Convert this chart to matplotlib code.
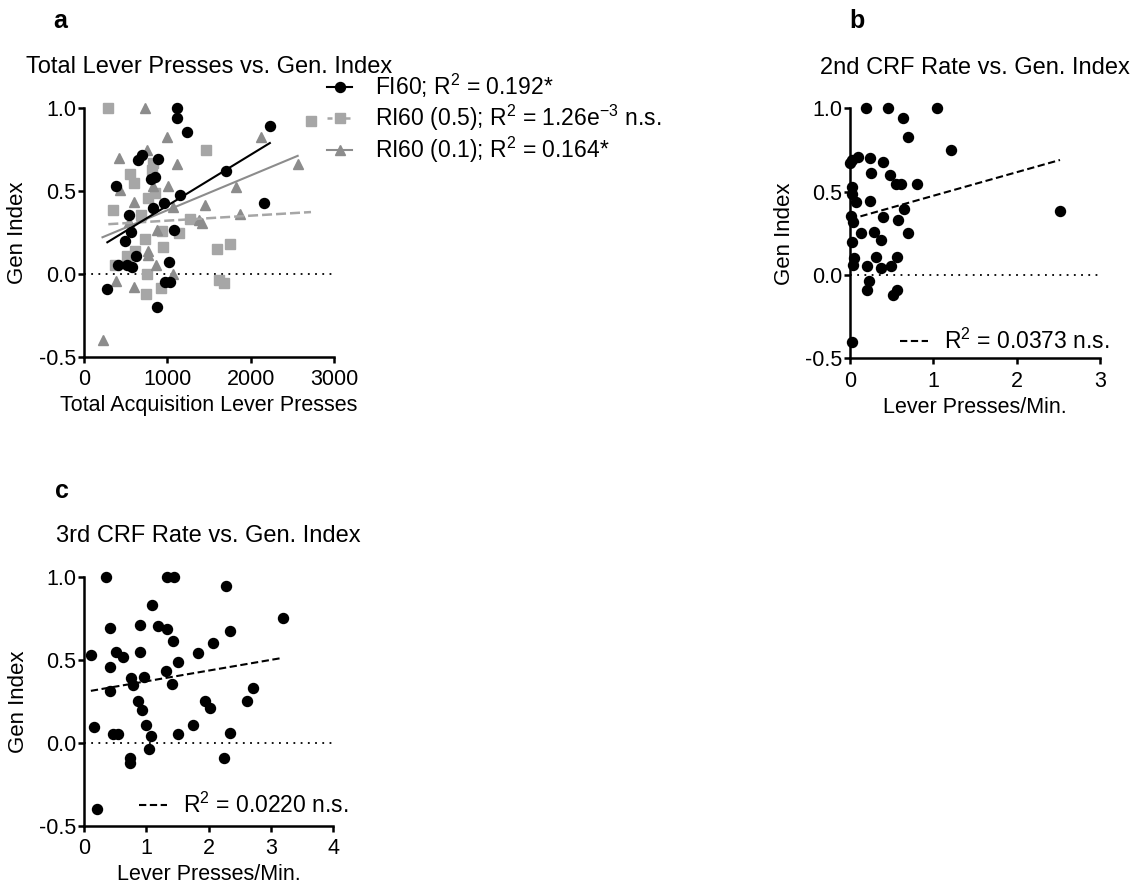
import matplotlib

matplotlib.use("agg")
import matplotlib.pyplot as plt
import numpy as np
from matplotlib.lines import Line2D
from matplotlib.ticker import FormatStrFormatter

plt.rcParams["font.family"] = ["Liberation Sans", "DejaVu Sans"]
plt.rcParams["mathtext.fontset"] = "custom"
plt.rcParams["mathtext.rm"] = "Liberation Sans"
plt.rcParams["mathtext.it"] = "Liberation Sans:italic"
plt.rcParams["mathtext.default"] = "regular"
plt.rcParams["axes.unicode_minus"] = False

# Panel a: total acquisition lever presses vs. generalization index
fi60_presses = [1112, 1112, 1240, 650, 690, 890, 800, 850, 380, 1150, 545, 830, 960, 2160,
                2230, 1700, 560, 490, 1075, 410, 510, 570, 620, 1025, 975, 1035, 280, 870]
fi60_gen = [1.0, 0.94, 0.855, 0.685, 0.715, 0.69, 0.57, 0.585, 0.53, 0.475, 0.355, 0.395, 0.43, 0.43,
            0.89, 0.62, 0.255, 0.2, 0.265, 0.055, 0.055, 0.04, 0.11, 0.075, -0.05, -0.05, -0.09, -0.2]

ri05_presses = [292, 2724, 1460, 552, 600, 830, 820, 770, 850, 345, 685, 1272, 1140, 930,
                735, 945, 510, 610, 750, 925, 740, 1592, 1752, 1620, 1675, 372]
ri05_gen = [1.0, 0.92, 0.745, 0.6, 0.55, 0.67, 0.625, 0.455, 0.485, 0.385, 0.355, 0.33, 0.245, 0.26,
            0.21, 0.165, 0.11, 0.14, 0.0, -0.085, -0.12, 0.15, 0.18, -0.035, -0.055, 0.055]

ri01_presses = [730, 995, 2128, 422, 755, 1112, 2564, 1820, 1012, 832, 432, 600, 1455, 1072,
                1866, 1384, 1410, 876, 544, 768, 768, 866, 1072, 382, 600, 222]
ri01_gen = [1.0, 0.825, 0.825, 0.7, 0.75, 0.66, 0.665, 0.525, 0.53, 0.53, 0.505, 0.435, 0.415, 0.405,
            0.36, 0.325, 0.305, 0.268, 0.314, 0.14, 0.115, 0.054, 0.0, -0.04, -0.078, -0.4]

# Panel b: 2nd CRF session rate
crf2_rate = [0.19, 0.45, 1.04, 0.63, 0.70, 1.21, 0.10, 0.02, 0.0, 0.24, 0.39, 0.25, 0.48, 0.55,
             0.61, 0.80, 0.02, 0.02, 0.07, 0.24, 0.65, 0.01, 0.03, 0.40, 0.57, 0.13, 0.29, 0.37,
             0.70, 0.02, 0.05, 0.03, 0.20, 0.31, 0.37, 0.49, 0.56, 0.23, 0.20, 0.56, 0.52, 0.02, 2.52]
crf2_gen = [1.0, 1.0, 1.0, 0.94, 0.83, 0.75, 0.71, 0.69, 0.67, 0.70, 0.68, 0.61, 0.60, 0.545,
            0.545, 0.545, 0.525, 0.485, 0.435, 0.445, 0.395, 0.355, 0.315, 0.35, 0.33, 0.25, 0.255, 0.21,
            0.25, 0.20, 0.10, 0.06, 0.055, 0.11, 0.04, 0.055, 0.11, -0.035, -0.09, -0.09, -0.12, -0.40, 0.385]

# Panel c: 3rd CRF session rate
crf3_rate = [0.35, 1.33, 1.44, 2.28, 1.09, 3.19, 0.42, 0.90, 1.19, 1.33, 2.34, 1.43, 2.07, 0.11,
             0.52, 0.63, 0.90, 1.83, 1.51, 0.42, 0.42, 0.75, 0.78, 0.96, 1.32, 1.41, 0.86, 0.93,
             0.16, 0.47, 0.54, 1.00, 1.07, 1.05, 1.51, 1.75, 1.94, 2.02, 2.34, 2.24, 0.74, 0.74,
             2.62, 2.71, 0.21]
crf3_gen = [1.0, 1.0, 1.0, 0.945, 0.83, 0.75, 0.695, 0.71, 0.705, 0.685, 0.675, 0.615, 0.60, 0.53,
            0.545, 0.52, 0.545, 0.54, 0.485, 0.455, 0.31, 0.39, 0.35, 0.395, 0.435, 0.355, 0.255, 0.20,
            0.095, 0.052, 0.052, 0.11, 0.04, -0.04, 0.052, 0.11, 0.25, 0.21, 0.06, -0.09, -0.09, -0.12,
            0.25, 0.33, -0.40]

labels_a = ["FI60; R$^2$ = 0.192*",
            "RI60 (0.5); R$^2$ = 1.26e$^{-3}$ n.s.",
            "RI60 (0.1); R$^2$ = 0.164*"]
label_b = "R$^2$ = 0.0373 n.s."
label_c = "R$^2$ = 0.0220 n.s."

light_gray = "#a6a6a6"
mid_gray = "#8c8c8c"
W, H = 1138, 890


def fit_line(x, y):
    slope, icpt = np.polyfit(x, y, 1)
    xs = np.array([min(x), max(x)])
    return xs, slope * xs + icpt


def style_axes(ax, xmax, xticks):
    ax.set_xlim(0, xmax)
    ax.set_ylim(-0.5, 1.0)
    ax.spines["top"].set_visible(False)
    ax.spines["right"].set_visible(False)
    ax.spines["left"].set_linewidth(1.8)
    ax.spines["bottom"].set_linewidth(1.8)
    ax.set_xticks(xticks)
    ax.set_yticks([-0.5, 0.0, 0.5, 1.0])
    ax.yaxis.set_major_formatter(FormatStrFormatter("%.1f"))
    ax.tick_params(direction="out", length=4.3, width=1.8, labelsize=15.5)
    ax.tick_params(axis="y", pad=1.5)
    ax.tick_params(axis="x", pad=4.5)
    ax.axhline(0, color="black", lw=1.3, ls=(0, (1, 3)), zorder=1)
    ax.set_ylabel("Gen Index", fontsize=16)
    ax.yaxis.set_label_coords(-0.222, 0.5)


fig = plt.figure(figsize=(W / 100, H / 100), dpi=100)
ax_a = fig.add_axes([84 / W, 1 - 357 / H, 250 / W, 249 / H])
ax_b = fig.add_axes([850 / W, 1 - 358.3 / H, 250 / W, 250 / H])
ax_c = fig.add_axes([84 / W, 1 - 825.7 / H, 249.3 / W, 248.7 / H])

# panel a
style_axes(ax_a, 3000, [0, 1000, 2000, 3000])
ax_a.plot(ri05_presses, ri05_gen, ls="none", marker="s", ms=6.7, color=light_gray, clip_on=False, zorder=2)
ax_a.plot(ri01_presses, ri01_gen, ls="none", marker="^", ms=7.5, color=mid_gray, clip_on=False, zorder=3)
ax_a.plot(fi60_presses, fi60_gen, ls="none", marker="o", ms=7.2, color="black", clip_on=False, zorder=4)
xs, ys = fit_line(ri05_presses, ri05_gen)
ax_a.plot(xs, ys, color=light_gray, lw=1.8, ls=(0, (4, 1.6)), zorder=5)
xs, ys = fit_line(ri01_presses, ri01_gen)
ax_a.plot(xs, ys, color=mid_gray, lw=1.5, zorder=5)
xs, ys = fit_line(fi60_presses, fi60_gen)
ax_a.plot(xs, ys, color="black", lw=1.5, zorder=6)
ax_a.set_title("Total Lever Presses vs. Gen. Index", fontsize=17, pad=25)
ax_a.set_xlabel("Total Acquisition Lever Presses", fontsize=15.5)
ax_a.xaxis.set_label_coords(0.5, -0.154)

handles_a = [
    Line2D([], [], color="black", lw=1.5, marker="o", ms=7.2),
    Line2D([], [], color=light_gray, lw=1.8, ls=(0, (2, 1.6)), marker="s", ms=6.7),
    Line2D([], [], color=mid_gray, lw=1.5, marker="^", ms=7.5),
]
fig.legend(handles_a, labels_a, loc="upper left", bbox_to_anchor=(327 / W, 1 - 72 / H),
           frameon=False, fontsize=16.5, handlelength=1.1, handletextpad=1.0,
           labelspacing=0.1, borderpad=0, borderaxespad=0)

# panel b
style_axes(ax_b, 3, [0, 1, 2, 3])
ax_b.plot(crf2_rate, crf2_gen, ls="none", marker="o", ms=7.2, color="black", clip_on=False, zorder=3)
xs, ys = fit_line(crf2_rate, crf2_gen)
ax_b.plot(xs, ys, color="black", lw=1.5, ls=(0, (3.5, 1.7)), zorder=4)
ax_b.set_title("2nd CRF Rate vs. Gen. Index", fontsize=17, pad=25)
ax_b.set_xlabel("Lever Presses/Min.", fontsize=15.5)
ax_b.xaxis.set_label_coords(0.5, -0.154)
ax_b.legend([Line2D([], [], color="black", lw=1.5, ls=(0, (3.5, 1.7)))], [label_b],
            loc="center left", bbox_to_anchor=(900 / W, 1 - 341.7 / H),
            bbox_transform=fig.transFigure, frameon=False, fontsize=16.5,
            handlelength=1.2, handletextpad=0.7, borderpad=0, borderaxespad=0)

# panel c
style_axes(ax_c, 4, [0, 1, 2, 3, 4])
ax_c.plot(crf3_rate, crf3_gen, ls="none", marker="o", ms=7.2, color="black", clip_on=False, zorder=3)
xs, ys = fit_line(crf3_rate, crf3_gen)
ax_c.plot(xs, ys, color="black", lw=1.5, ls=(0, (3.5, 1.7)), zorder=4)
ax_c.set_title("3rd CRF Rate vs. Gen. Index", fontsize=17, pad=25)
ax_c.set_xlabel("Lever Presses/Min.", fontsize=15.5)
ax_c.xaxis.set_label_coords(0.5, -0.154)
ax_c.legend([Line2D([], [], color="black", lw=1.5, ls=(0, (3.5, 1.7)))], [label_c],
            loc="center left", bbox_to_anchor=(139 / W, 1 - 805 / H),
            bbox_transform=fig.transFigure, frameon=False, fontsize=16.5,
            handlelength=1.2, handletextpad=0.7, borderpad=0, borderaxespad=0)

# panel letters
fig.text(53 / W, 1 - 28 / H, "a", fontsize=18, fontweight="bold", va="baseline")
fig.text(849 / W, 1 - 28 / H, "b", fontsize=18, fontweight="bold", va="baseline")
fig.text(55 / W, 1 - 498 / H, "c", fontsize=18, fontweight="bold", va="baseline")

fig.savefig("out.png", dpi=100)
plt.close(fig)
